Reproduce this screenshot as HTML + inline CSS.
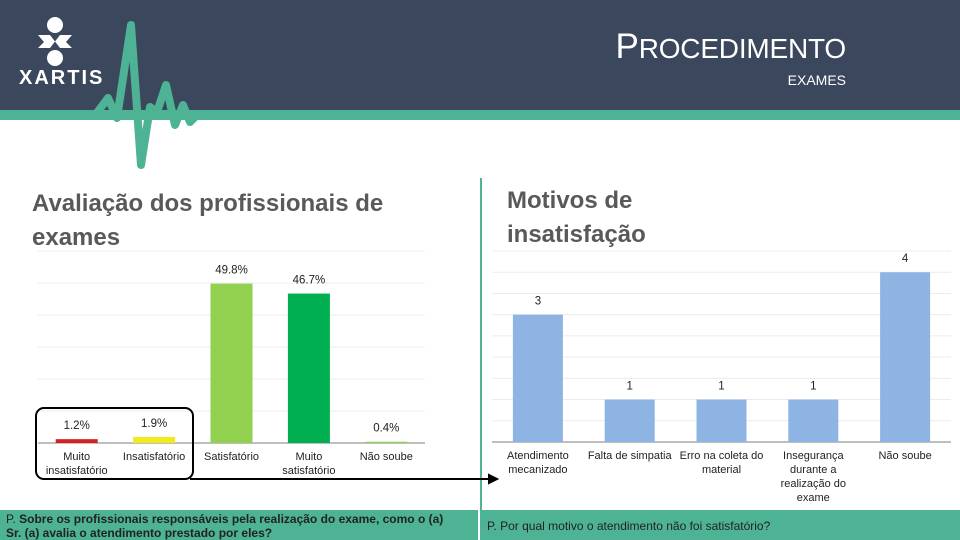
<!DOCTYPE html>
<html><head><meta charset="utf-8"><style>
body{margin:0;width:960px;height:540px;overflow:hidden;background:#fff;font-family:"Liberation Sans",sans-serif;position:relative}
.abs{position:absolute}
.title{color:#595959;font-weight:bold;font-size:24px;line-height:34px}
.band{background:#4db394;height:30px;top:510px;font-size:12px;color:#222;line-height:14px}
</style></head><body>
<div class="abs" style="left:0;top:0;width:960px;height:110px;background:#3b475c"></div>
<div class="abs" style="left:0;top:110px;width:960px;height:10px;background:#4db394"></div>
<svg class="abs" style="left:0;top:0" width="260" height="175">
<circle cx="55" cy="25" r="8" fill="#fff"/><circle cx="55" cy="58" r="8" fill="#fff"/>
<path d="M38 35 L50 35 L60 48 L72 48 L66 42 L72 35 L60 35 L50 48 L38 48 L44 42 Z" fill="#fff"/>
<text x="19" y="84" fill="#fff" font-family="Liberation Sans" font-size="20" font-weight="bold" letter-spacing="2">XARTIS</text>
<polyline points="0,114 96,114 108,98 117,118 131,25 141,165 150,107 157,112 166,85 175,125 183,105 190,122 198,114 260,114" fill="none" stroke="#4db394" stroke-width="8" stroke-linejoin="round" stroke-linecap="round"/>
</svg>
<div class="abs" style="right:114px;top:27px;color:#fff;font-size:35px;font-weight:normal;letter-spacing:-0.2px">P<span style="font-size:28px">ROCEDIMENTO</span></div>
<div class="abs" style="right:114px;top:72px;color:#fff;font-size:14px">EXAMES</div>
<div class="abs title" style="left:32px;top:187px;width:400px">Avaliação dos profissionais de exames</div>
<div class="abs title" style="left:507px;top:184px">Motivos de<br>insatisfação</div>
<div class="abs" style="left:480px;top:178px;width:2px;height:332px;background:#4db394"></div>
<svg class="abs" id="c1" style="left:0;top:0" width="960" height="540"></svg>
<div class="abs" style="left:35px;top:407px;width:155px;height:69px;border:2px solid #000;border-radius:9px"></div>
<div class="abs" style="left:190px;top:478px;width:290px;height:2px;background:#000"></div>
<div class="abs band" style="left:0;width:478px;padding:2px 20px 0 6px;box-sizing:border-box">P. <b>Sobre os profissionais responsáveis pela realização do exame, como o (a) Sr. (a) avalia o atendimento prestado por eles?</b></div>
<div class="abs band" style="left:480px;width:480px;padding:9px 0 0 7px;box-sizing:border-box">P. Por qual motivo o atendimento não foi satisfatório?</div>
<script>
const cats1=["Muito insatisfatório","Insatisfatório","Satisfatório","Muito satisfatório","Não soube"];
const vals1=[1.2,1.9,49.8,46.7,0.4];
const labels1=["1.2%","1.9%","49.8%","46.7%","0.4%"];
const colors1=["#d42020","#f2ea1e","#92d050","#00b050","#92d050"];
const cats2=["Atendimento mecanizado","Falta de simpatia","Erro na coleta do material","Insegurança durante a realização do exame","Não soube"];
const vals2=[3,1,1,1,4];
const NS="http://www.w3.org/2000/svg";
const svg=document.getElementById('c1');
function el(t,a,txt){const e=document.createElementNS(NS,t);for(const k in a)e.setAttribute(k,a[k]);if(txt!==undefined)e.textContent=txt;svg.appendChild(e);return e;}
function wrap(s,n){const w=s.split(' ');const out=[];let cur='';for(const x of w){if(cur&&(cur+' '+x).length>n){out.push(cur);cur=x;}else cur=cur?cur+' '+x:x;}out.push(cur);return out;}
function chart(o){
 const y=v=>o.base-(v/o.max)*(o.base-o.top);
 const bw=(o.x1-o.x0)/o.cats.length;
 for(let g=0;g<=o.max+1e-9;g+=o.step){
  const line=el('line',{x1:o.x0,x2:o.x1,y1:y(g),y2:y(g),stroke:g===0?'#bfbfbf':'#ececec','stroke-width':g===0?2:1});
  
  
 }
 o.cats.forEach((c,i)=>{
  const cx=o.x0+bw*(i+0.5);const v=o.vals[i];
  const r=el('rect',{x:cx-o.barW/2,y:y(v),width:o.barW,height:o.base-y(v),fill:o.colors?o.colors[i]:'#8db4e2'});
  
  
  const t=el('text',{x:cx,y:y(v)-10,'text-anchor':'middle','font-size':11.5,fill:'#222','font-family':'Liberation Sans'},o.labels?o.labels[i]:v);
  
  
  wrap(c,o.wrapN).forEach((ln,j)=>{
   const tt=el('text',{x:cx,y:o.base+17+j*14,'text-anchor':'middle','font-size':11,fill:'#222','font-family':'Liberation Sans'},ln);
   
   
  });
 });
}
chart({id:'left',cats:cats1,vals:vals1,labels:labels1,colors:colors1,x0:38,x1:425,base:443,top:251,max:60,step:10,barW:42,wrapN:13});
chart({id:'right',cats:cats2,vals:vals2,x0:492,x1:951,base:442,top:251,max:4.5,step:0.5,barW:50,wrapN:17});
const a=el('path',{d:'M480 479 L493 479 M489 475 L497 479 L489 483 Z',stroke:'#000','stroke-width':2,fill:'#000'});


</script>
</body></html>
